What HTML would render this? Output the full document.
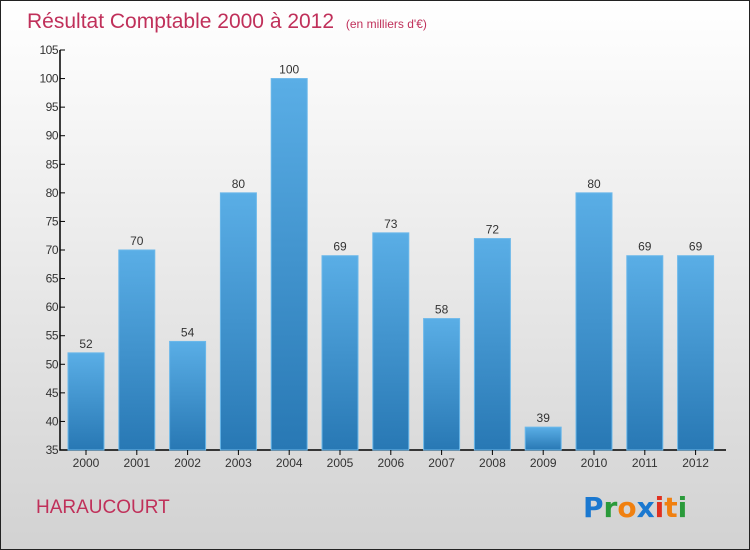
<!DOCTYPE html>
<html><head><meta charset="utf-8"><style>
body{margin:0}
#wrap{position:relative;width:748px;height:548px;border:1px solid #222;background:linear-gradient(#ffffff,#f4f4f4 25%,#d2d2d2);overflow:hidden;font-family:"Liberation Sans",sans-serif}
</style></head><body>
<div id="wrap">
<svg id="c" width="748" height="548">
<defs><linearGradient id="bg" x1="0" y1="0" x2="0" y2="1"><stop offset="0" stop-color="#5aaee6"/><stop offset="1" stop-color="#2878b4"/></linearGradient></defs>
<text x="26" y="27" font-size="21" fill="#c0305a">Résultat Comptable 2000 à 2012 <tspan font-size="12" dx="6">(en milliers d'€)</tspan></text>
<text x="35" y="512" font-size="19" fill="#c0305a">HARAUCOURT</text>
<g font-size="28" font-weight="bold" font-family="'DejaVu Sans',sans-serif">
<text x="582" y="516"><tspan fill="#1a78d0">P</tspan><tspan fill="#2a9a3a">r</tspan><tspan fill="#f08010">o</tspan><tspan fill="#1a78d0">x</tspan><tspan fill="#e03020">i</tspan><tspan fill="#f08010">t</tspan><tspan fill="#2a9a3a">i</tspan></text></g>
<g id="plot"></g>
</svg></div>
<script>
const years=["2000","2001","2002","2003","2004","2005","2006","2007","2008","2009","2010","2011","2012"];
const values=[52,70,54,80,100,69,73,58,72,39,80,69,69];
const ticks=[35,40,45,50,55,60,65,70,75,80,85,90,95,100,105];
const ns="http://www.w3.org/2000/svg",g=document.getElementById('plot');
const y=v=>449-(v-35)*400/70, x=i=>85+i*50.8;
function mk(t,a){const e=document.createElementNS(ns,t);for(const k in a)e.setAttribute(k,a[k]);g.appendChild(e);return e;}
const ax=mk('path',{d:'M59 49V449H725',stroke:'#000',fill:'none','stroke-width':1.5});


ticks.forEach(t=>{mk('line',{x1:59,x2:64,y1:y(t),y2:y(t),stroke:'#000'});
const tx=mk('text',{x:57,y:y(t)+4,'text-anchor':'end','font-size':12,fill:'#333','letter-spacing':'-0.5'});tx.textContent=t;

});
years.forEach((yr,i)=>{const v=values[i],cx=x(i);
const r=mk('rect',{x:cx-18,y:y(v),width:36,height:449-y(v),fill:'url(#bg)',stroke:'#6bb8ea','stroke-width':1});


mk('line',{x1:cx,x2:cx,y1:449,y2:454,stroke:'#000'});
const l=mk('text',{x:cx,y:y(v)-5,'text-anchor':'middle','font-size':12,fill:'#333'});l.textContent=v;


const xl=mk('text',{x:cx,y:466,'text-anchor':'middle','font-size':12,fill:'#333'});xl.textContent=yr;

});
</script></body></html>
